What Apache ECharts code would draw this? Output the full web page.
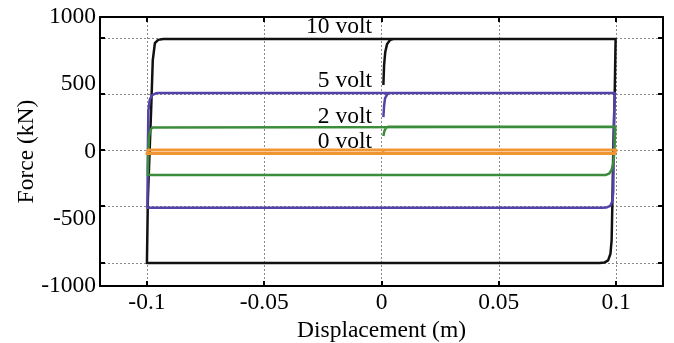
<!DOCTYPE html>
<html>
<head>
<meta charset="utf-8">
<script src="https://cdn.jsdelivr.net/npm/echarts@6/dist/echarts.min.js"></script>
<style>html,body{margin:0;padding:0;background:#fff}#c{width:674px;height:343px}</style>
</head>
<body>
<div id="c"></div>
<script>
// ---- data ----
const xTickValues = [-0.1, -0.05, 0, 0.05, 0.1];
const yLabelValues = [-1000, -500, 0, 500, 1000];
const yGridValues = [844, 428, 11, -405, -829];
const seriesNames = ['10 volt', '5 volt', '2 volt', '0 volt'];

const volt10Disp  = [0.0008, 0.0011, 0.0016, 0.0024, 0.0036, 0.005, 0.0998, 0.0994, 0.0988, 0.0984, 0.0981, 0.0976, 0.0966, 0.0950, 0.093, -0.1, -0.0996, -0.0989, -0.0982, -0.0975, -0.0966, -0.0952, -0.093, 0.0998];
const volt10Force = [495, 640, 740, 800, 828, 836, 836, 420, 10, -400, -660, -760, -810, -826, -829, -829, -360, -20, 310, 680, 805, 830, 836, 836];

const volt5Disp  = [0.0008, 0.0011, 0.0015, 0.0024, 0.0036, 0.0995, 0.0992, 0.0990, 0.0988, 0.0984, 0.0975, 0.096, 0.094, -0.0998, -0.0996, -0.0994, -0.0988, -0.0978, -0.0962, -0.095, 0.0995];
const volt5Force = [256, 340, 395, 425, 435, 435, 300, 0, -300, -370, -405, -416, -418, -418, 0, 300, 385, 420, 433, 435, 435];

const volt2Disp  = [0.0008, 0.0012, 0.0018, 0.0028, 0.0997, 0.0995, 0.0993, 0.0988, 0.098, 0.097, 0.0955, -0.0996, -0.0994, -0.0991, -0.0985, -0.0977, -0.097, 0.0997];
const volt2Force = [115, 150, 172, 184, 184, 100, 0, -90, -140, -165, -175, -175, 0, 110, 160, 178, 184, 184];

const volt0Disp  = [0, 0.0015, 0.1, 0.0994, -0.1, -0.0994, 0.1];
const volt0Force = [0, 12, 12, -15, -15, 12, 12];

// ---- chart ----
const zip = (xs, ys) => xs.map((x, i) => [x, ys[i]]);
const serif = 'Liberation Serif, Times New Roman, serif';
const colors = ['#111111', '#5343a8', '#3b8c3b', '#ef9532'];
const widths = [2.5, 2.5, 2.5, 3];
const dataSets = [zip(volt10Disp, volt10Force), zip(volt5Disp, volt5Force), zip(volt2Disp, volt2Force), zip(volt0Disp, volt0Force)];

const chart = echarts.init(document.getElementById('c'), null, {renderer: 'canvas'});
const tickStyle = {color: '#000', width: 2};
const gridLine = {show: true, lineStyle: {color: '#8a8a8a', type: [2, 2], width: 1}};
const FS = 23.5;

chart.setOption({
  animation: false,
  backgroundColor: '#fff',
  grid: {left: 100, right: 11, top: 17, bottom: 57, containLabel: false, outerBoundsMode: 'none'},
  xAxis: [
    {type: 'value', min: -0.12, max: 0.12, position: 'bottom',
     axisLine: {show: true, onZero: false, lineStyle: tickStyle},
     axisTick: {show: true, inside: true, length: 5, customValues: xTickValues, lineStyle: tickStyle},
     axisLabel: {customValues: xTickValues, color: '#000', fontFamily: serif, fontSize: FS, margin: 5,
                 formatter: v => String(v)},
     splitLine: gridLine,
     name: 'Displacement (m)', nameLocation: 'middle', nameGap: 33, nameMoveOverlap: false,
     nameTextStyle: {color: '#000', fontFamily: serif, fontSize: FS}},
    {type: 'value', min: -0.12, max: 0.12, position: 'top',
     axisLine: {show: true, onZero: false, lineStyle: tickStyle},
     axisTick: {show: true, inside: true, length: 5, customValues: xTickValues, lineStyle: tickStyle},
     axisLabel: {show: false}, splitLine: {show: false}}
  ],
  yAxis: [
    {type: 'value', min: -1000, max: 1000, interval: 500, position: 'left',
     axisLine: {show: true, onZero: false, lineStyle: tickStyle},
     axisTick: {show: true, inside: true, length: 5, customValues: yGridValues, lineStyle: tickStyle},
     axisLabel: {customValues: yLabelValues, color: '#000', fontFamily: serif, fontSize: FS, margin: 4,
                 formatter: v => String(v)},
     splitLine: gridLine,
     name: 'Force (kN)', nameLocation: 'middle', nameGap: 61, nameMoveOverlap: false,
     nameTextStyle: {color: '#000', fontFamily: serif, fontSize: FS}},
    {type: 'value', min: -1000, max: 1000, interval: 500, position: 'right',
     axisLine: {show: true, onZero: false, lineStyle: tickStyle},
     axisTick: {show: true, inside: true, length: 5, customValues: yGridValues, lineStyle: tickStyle},
     axisLabel: {show: false}, splitLine: {show: false}}
  ],
  series: dataSets.map((d, i) => ({
    name: seriesNames[i], type: 'line', data: d, xAxisIndex: 0, yAxisIndex: 0,
    showSymbol: false, symbol: 'none', smooth: false, z: 3 + i,
    lineStyle: {color: colors[i], width: widths[i], join: 'round'}
  })),
  graphic: [
    {type: 'text', right: 674 - 372, top: 15, style: {text: seriesNames[0], font: FS + 'px ' + serif, fill: '#000', textAlign: 'right'}},
    {type: 'text', right: 674 - 372, top: 69, style: {text: seriesNames[1], font: FS + 'px ' + serif, fill: '#000', textAlign: 'right'}},
    {type: 'text', right: 674 - 372, top: 105, style: {text: seriesNames[2], font: FS + 'px ' + serif, fill: '#000', textAlign: 'right'}},
    {type: 'text', right: 674 - 372, top: 130, style: {text: seriesNames[3], font: FS + 'px ' + serif, fill: '#000', textAlign: 'right'}}
  ]
});
</script>
</body>
</html>
